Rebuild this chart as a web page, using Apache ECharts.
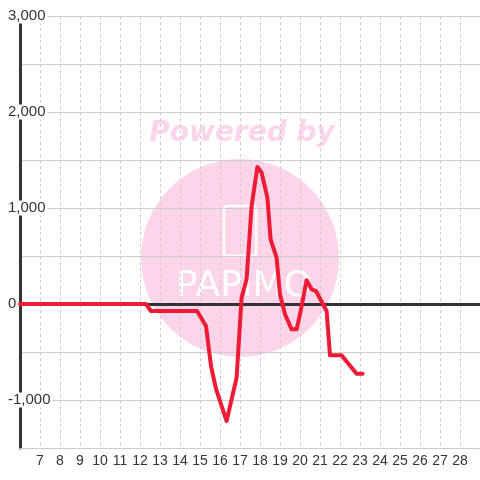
<!DOCTYPE html>
<html>
<head>
<meta charset="utf-8">
<script src="https://cdn.jsdelivr.net/npm/echarts@6/dist/echarts.min.js"></script>
<style>
  html, body { margin: 0; padding: 0; background: #fff; }
  #chart { width: 480px; height: 480px; }
</style>
</head>
<body>
<div id="chart"></div>
<script>
// hour of day
var hours = [6, 12.3, 12.55, 14.85, 15.3, 15.55, 15.8, 16.33, 16.83, 17.08, 17.33, 17.58, 17.87,
    18.08, 18.37, 18.53, 18.83, 19.0, 19.25, 19.58, 19.83, 20.0, 20.33, 20.58, 20.8, 21.33,
    21.5, 22.08, 22.83, 23.13];
// power values
var power = [0, 0, -73, -73, -229, -646, -885, -1219, -768, 66, 260, 1020, 1427,
    1368, 1107, 674, 482, 100, -107, -264, -264, -107, 247, 153, 135, -73,
    -535, -535, -726, -726];

var xMin = 6, xMax = 29;
var yMin = -1500, yMax = 3000, yStep = 500, yLabelStep = 1000;

var PowerChart = function () {
    var fontFam = '"Liberation Sans", Arial, sans-serif';
    var pink = '#fcd5eb';

    var _draw = function () {
        var dom = document.getElementById('chart');
        var chart = echarts.init(dom, null, { renderer: 'canvas' });

        var seriesData = [];
        for (var i = 0; i < hours.length; i++) {
            seriesData.push([hours[i], power[i]]);
        }

        var option = {
            animation: false,
            backgroundColor: '#fff',
            grid: { left: 20, right: 0, top: 16, bottom: 32, containLabel: false },
            graphic: [
                { type: 'circle', z: -10, shape: { cx: 240, cy: 258, r: 99 }, style: { fill: pink } },
                {
                    type: 'text', z: -10, x: 242, y: 134,
                    style: {
                        text: 'Powered by', fill: pink, align: 'center', verticalAlign: 'middle',
                        font: 'italic bold 28px "DejaVu Sans", sans-serif'
                    }
                },
                {
                    type: 'rect', z: -9, shape: { x: 224, y: 206, width: 32, height: 50, r: 3 },
                    style: { fill: 'none', stroke: '#fff', lineWidth: 2.5 }
                },
                {
                    type: 'text', z: -9, x: 244, y: 287,
                    style: {
                        text: 'PAPIMO', fill: '#fff', align: 'center', verticalAlign: 'middle',
                        font: '36px "DejaVu Sans", sans-serif'
                    }
                }
            ],
            xAxis: [
                {
                    type: 'value',
                    min: xMin,
                    max: xMax,
                    interval: 1,
                    position: 'bottom',
                    axisLine: { show: true, onZero: false, lineStyle: { color: '#ccc', width: 1 } },
                    axisTick: { show: false },
                    axisLabel: {
                        color: '#333', fontSize: 14, fontFamily: fontFam, margin: 6,
                        showMinLabel: false, showMaxLabel: false
                    },
                    splitLine: { show: true, lineStyle: { color: '#ccc', type: [3, 3], width: 1 } }
                },
                {
                    // zero line
                    type: 'value',
                    min: xMin,
                    max: xMax,
                    position: 'bottom',
                    axisLine: { show: true, onZero: true, lineStyle: { color: '#333', width: 3 } },
                    axisTick: { show: false },
                    axisLabel: { show: false },
                    splitLine: { show: false }
                }
            ],
            yAxis: {
                type: 'value',
                min: yMin,
                max: yMax,
                interval: yStep,
                axisLine: { show: true, onZero: false, lineStyle: { color: '#333', width: 3 } },
                axisTick: { show: false },
                splitLine: { show: true, lineStyle: { color: '#ccc', width: 1 } },
                axisLabel: {
                    align: 'left',
                    margin: 12,
                    formatter: function (v) {
                        if (v % yLabelStep !== 0) return '';
                        return '{a|' + v.toLocaleString('en-US') + '}';
                    },
                    rich: {
                        a: {
                            color: '#333', fontSize: 15, fontFamily: fontFam,
                            backgroundColor: '#fff', padding: [0, 2, 0, 0], lineHeight: 13
                        }
                    }
                }
            },
            series: [
                {
                    type: 'line',
                    xAxisIndex: 0,
                    data: seriesData,
                    showSymbol: false,
                    symbol: 'none',
                    lineStyle: { color: '#ed1c34', width: 4, join: 'round', cap: 'round' },
                    z: 5
                }
            ]
        };

        chart.setOption(option);
        window.addEventListener('resize', chart.resize);
    };

    return {
        init: function () {
            _draw();
        }
    };
}();

document.addEventListener('DOMContentLoaded', function () {
    PowerChart.init();
});
</script>
</body>
</html>
